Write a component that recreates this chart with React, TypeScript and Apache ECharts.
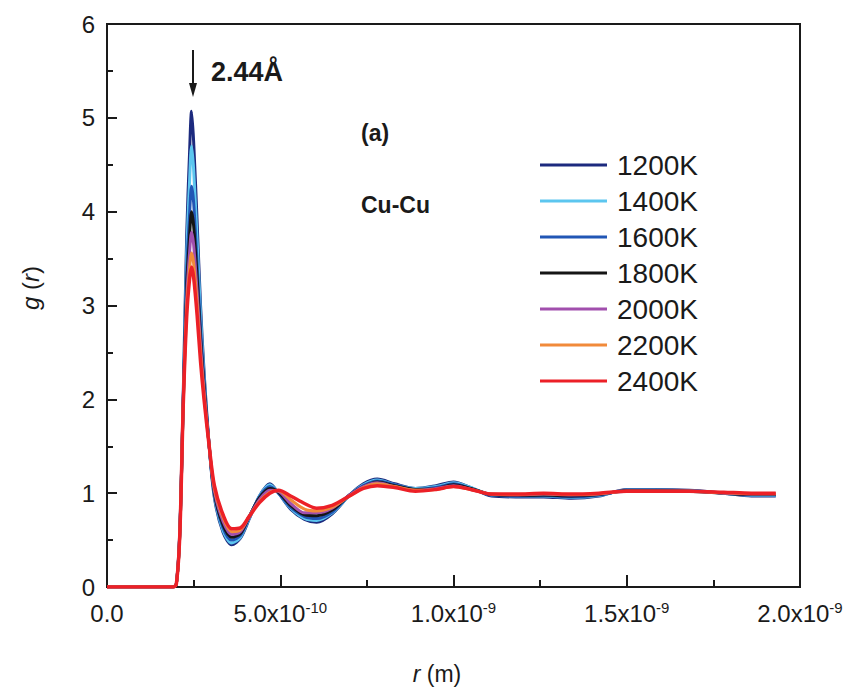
import React, { useEffect, useRef } from "react";
import * as echarts from "echarts";

// r in units of 1e-10 m (Å)
const rValues = [0, 1.9, 2.0, 2.1, 2.2, 2.3, 2.38, 2.44, 2.5, 2.6, 2.7, 2.8, 2.95, 3.1, 3.35, 3.6, 3.85, 4.1, 4.4, 4.7, 4.95, 5.3, 5.7, 6.05, 6.5, 7.0, 7.4, 7.8, 8.3, 8.9, 9.5, 10.0, 10.5, 11.1, 11.8, 12.6, 13.4, 14.2, 15.0, 15.8, 16.8, 17.8, 18.6, 19.3];

const seriesNames = ["1200K", "1400K", "1600K", "1800K", "2000K", "2200K", "2400K"];
const seriesColors = ["#1c2a7e", "#5cc6ef", "#2156b5", "#151515", "#a14fad", "#f18a3a", "#ec2027"];

const g1200 = [0, 0, 0.03, 0.6, 2.05, 3.75, 4.6, 5.07, 4.75, 3.9, 3.0, 2.3, 1.5, 0.95, 0.58, 0.45, 0.52, 0.72, 0.97, 1.1, 1.0, 0.83, 0.72, 0.69, 0.78, 0.98, 1.1, 1.15, 1.1, 1.05, 1.08, 1.12, 1.06, 0.97, 0.96, 0.96, 0.945, 0.97, 1.04, 1.04, 1.03, 1.0, 0.97, 0.97];
const g1400 = [0, 0, 0.03, 0.58, 2.0, 3.55, 4.3, 4.7, 4.45, 3.7, 2.9, 2.25, 1.5, 0.97, 0.6, 0.47, 0.53, 0.73, 0.97, 1.09, 1.0, 0.84, 0.73, 0.71, 0.79, 0.98, 1.09, 1.14, 1.09, 1.05, 1.07, 1.11, 1.06, 0.98, 0.97, 0.97, 0.955, 0.975, 1.035, 1.035, 1.025, 1.0, 0.975, 0.975];
const g1600 = [0, 0, 0.03, 0.57, 1.98, 3.35, 3.95, 4.27, 4.1, 3.45, 2.75, 2.2, 1.5, 0.99, 0.63, 0.5, 0.55, 0.74, 0.96, 1.07, 1.0, 0.85, 0.75, 0.73, 0.8, 0.98, 1.08, 1.13, 1.09, 1.04, 1.06, 1.1, 1.05, 0.98, 0.97, 0.975, 0.96, 0.98, 1.03, 1.03, 1.025, 1.0, 0.98, 0.98];
const g1800 = [0, 0, 0.03, 0.56, 1.96, 3.2, 3.72, 4.0, 3.85, 3.3, 2.65, 2.15, 1.5, 1.0, 0.66, 0.53, 0.57, 0.75, 0.95, 1.05, 1.01, 0.87, 0.77, 0.76, 0.82, 0.98, 1.07, 1.12, 1.08, 1.04, 1.05, 1.09, 1.05, 0.985, 0.975, 0.98, 0.97, 0.985, 1.025, 1.025, 1.02, 1.0, 0.985, 0.985];
const g2000 = [0, 0, 0.03, 0.56, 1.95, 3.08, 3.55, 3.78, 3.65, 3.15, 2.57, 2.1, 1.5, 1.02, 0.7, 0.56, 0.59, 0.75, 0.93, 1.03, 1.02, 0.89, 0.79, 0.79, 0.84, 0.98, 1.07, 1.11, 1.07, 1.03, 1.05, 1.08, 1.04, 0.99, 0.98, 0.99, 0.98, 0.99, 1.02, 1.02, 1.02, 1.0, 0.99, 0.99];
const g2200 = [0, 0, 0.03, 0.55, 1.94, 2.97, 3.38, 3.56, 3.45, 3.02, 2.48, 2.05, 1.5, 1.05, 0.74, 0.59, 0.61, 0.75, 0.91, 1.01, 1.025, 0.93, 0.83, 0.81, 0.85, 0.97, 1.06, 1.1, 1.07, 1.03, 1.04, 1.07, 1.04, 0.99, 0.985, 0.995, 0.985, 0.995, 1.02, 1.02, 1.02, 1.005, 0.995, 0.995];
const g2400 = [0, 0, 0.03, 0.55, 1.93, 2.88, 3.27, 3.41, 3.3, 2.9, 2.4, 2.0, 1.5, 1.08, 0.77, 0.62, 0.63, 0.75, 0.9, 1.0, 1.03, 0.97, 0.89, 0.84, 0.87, 0.97, 1.05, 1.08, 1.06, 1.02, 1.04, 1.07, 1.04, 0.99, 0.99, 1.0, 0.99, 1.0, 1.02, 1.02, 1.02, 1.01, 1.0, 1.0];

const seriesValues = [g1200, g1400, g1600, g1800, g2000, g2200, g2400];

const xTickValues = [0, 5, 10, 15, 20];
const xTickLabels = ["0.0", "5.0x10{sup|-10}", "1.0x10{sup|-9}", "1.5x10{sup|-9}", "2.0x10{sup|-9}"];

const FONT = "'Liberation Sans', Arial, Helvetica, sans-serif";

export default function App() {
  const ref = useRef<HTMLDivElement>(null);
  useEffect(() => {
    if (!ref.current) return;
    const chart = echarts.init(ref.current, null, { renderer: "svg" });
    const series = seriesNames.map((name, i) => ({
      name,
      type: "line",
      data: rValues.map((r, k) => [r, seriesValues[i][k]]),
      showSymbol: false,
      symbol: "none",
      smooth: 0.3,
      lineStyle: { width: i === 6 ? 3.5 : 3, color: seriesColors[i] },
      itemStyle: { color: seriesColors[i] },
      z: 2 + i,
    }));
    chart.setOption({
      animation: false,
      backgroundColor: "#ffffff",
      textStyle: { fontFamily: FONT },
      grid: {
        left: 107,
        right: 50,
        top: 24,
        bottom: 102,
        show: true,
        borderColor: "#1a1a1a",
        borderWidth: 2,
        backgroundColor: "transparent",
      },
      legend: {
        orient: "vertical",
        left: 540,
        top: 151,
        padding: 0,
        itemWidth: 67,
        itemHeight: 3,
        itemGap: 8,
        icon: "rect",
        data: seriesNames,
        textStyle: {
          fontSize: 28,
          lineHeight: 27,
          color: "#1a1a1a",
          fontFamily: FONT,
          padding: [0, 0, 0, 5],
        },
      },
      xAxis: {
        type: "value",
        min: 0,
        max: 20,
        interval: 5,
        axisLine: { show: true, lineStyle: { color: "#1a1a1a", width: 2 } },
        axisTick: { show: true, inside: true, length: 12, lineStyle: { color: "#1a1a1a", width: 2 } },
        minorTick: { show: true, splitNumber: 2, length: 7, lineStyle: { color: "#1a1a1a", width: 2 } },
        splitLine: { show: false },
        axisLabel: {
          margin: 13,
          color: "#1a1a1a",
          fontSize: 24,
          lineHeight: 26,
          fontFamily: FONT,
          showMinLabel: true,
          showMaxLabel: true,
          formatter: (v: number) => {
            const idx = xTickValues.findIndex((t) => Math.abs(t - v) < 1e-6);
            return idx >= 0 ? xTickLabels[idx] : "";
          },
          rich: {
            sup: { fontSize: 15, lineHeight: 15, verticalAlign: "top", color: "#1a1a1a", fontFamily: FONT },
          },
        },
      },
      yAxis: {
        type: "value",
        min: 0,
        max: 6,
        interval: 1,
        axisLine: { show: true, lineStyle: { color: "#1a1a1a", width: 2 } },
        axisTick: { show: true, inside: true, length: 10, lineStyle: { color: "#1a1a1a", width: 2 } },
        minorTick: { show: true, splitNumber: 2, length: 6, lineStyle: { color: "#1a1a1a", width: 2 } },
        splitLine: { show: false },
        axisLabel: { margin: 12, color: "#1a1a1a", fontSize: 24, fontFamily: FONT },
      },
      graphic: [
        {
          type: "text",
          x: 30,
          y: 288,
          rotation: Math.PI / 2,
          style: {
            text: "{i|g} ({i|r})",
            font: `24px ${FONT}`,
            fill: "#1a1a1a",
            align: "center",
            verticalAlign: "middle",
            rich: { i: { fontStyle: "italic", fontSize: 24, fontFamily: FONT, fill: "#1a1a1a" } },
          },
        },
        {
          type: "text",
          x: 437,
          y: 674,
          style: {
            text: "{i|r} (m)",
            font: `23px ${FONT}`,
            fill: "#1a1a1a",
            align: "center",
            verticalAlign: "middle",
            rich: { i: { fontStyle: "italic", fontSize: 23, fontFamily: FONT, fill: "#1a1a1a" } },
          },
        },
        {
          type: "text",
          x: 361,
          y: 133,
          style: { text: "(a)", font: `bold 23px ${FONT}`, fill: "#1a1a1a", verticalAlign: "middle" },
        },
        {
          type: "text",
          x: 361,
          y: 205,
          style: { text: "Cu-Cu", font: `bold 23px ${FONT}`, fill: "#1a1a1a", verticalAlign: "middle" },
        },
        {
          type: "text",
          x: 211,
          y: 72,
          style: { text: "2.44Å", font: `bold 27px ${FONT}`, fill: "#1a1a1a", verticalAlign: "middle" },
        },
        {
          type: "line",
          shape: { x1: 193, y1: 50, x2: 193, y2: 88 },
          style: { stroke: "#1a1a1a", lineWidth: 2 },
        },
        {
          type: "polygon",
          shape: { points: [[189, 83], [197, 83], [193, 97]] },
          style: { fill: "#1a1a1a" },
        },
      ],
      series,
    });
    return () => chart.dispose();
  }, []);
  return (
    <div
      ref={ref}
      style={{ position: "fixed", left: 0, top: 0, width: 850, height: 689, background: "#fff" }}
    />
  );
}
